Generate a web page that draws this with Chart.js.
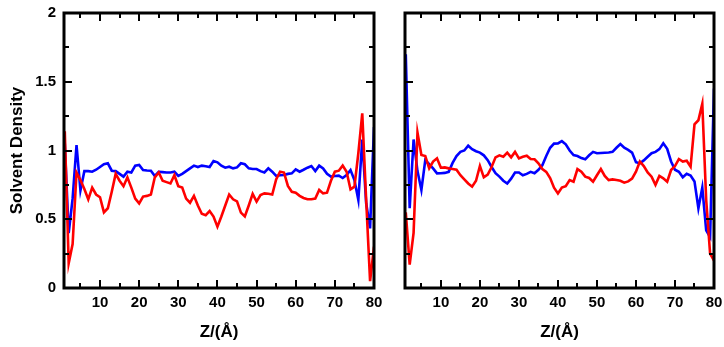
<!DOCTYPE html>
<html><head><meta charset="utf-8">
<script src="https://cdn.jsdelivr.net/npm/chart.js@4.4.1/dist/chart.umd.min.js"></script>
<style>
html,body{margin:0;padding:0;background:#fff;}
#wrap{position:relative;width:724px;height:347px;overflow:hidden;}
#c1{position:absolute;left:0;top:0;width:390px;height:347px;}
#c2{position:absolute;left:390px;top:0;width:334px;height:347px;}
</style></head><body>
<div id="wrap"><canvas id="c1" width="390" height="347"></canvas><canvas id="c2" width="334" height="347"></canvas></div>
<script>
// ---- data ----
const zValues = [1,2,3,4,5,6,7,8,9,10,11,12,13,14,15,16,17,18,19,20,21,22,23,24,25,26,27,28,29,30,31,32,33,34,35,36,37,38,39,40,41,42,43,44,45,46,47,48,49,50,51,52,53,54,55,56,57,58,59,60,61,62,63,64,65,66,67,68,69,70,71,72,73,74,75,76,77,78,79,80];
const leftRed = [1.14,0.18,0.32,0.84,0.785,0.72,0.645,0.73,0.68,0.66,0.55,0.58,0.70,0.83,0.78,0.74,0.805,0.73,0.65,0.615,0.665,0.67,0.68,0.805,0.84,0.78,0.77,0.76,0.82,0.74,0.73,0.65,0.62,0.67,0.60,0.54,0.53,0.56,0.52,0.446,0.52,0.60,0.68,0.645,0.63,0.548,0.52,0.60,0.684,0.628,0.676,0.688,0.685,0.68,0.79,0.846,0.84,0.742,0.70,0.693,0.67,0.655,0.645,0.645,0.65,0.713,0.688,0.693,0.78,0.846,0.853,0.89,0.846,0.717,0.737,0.98,1.27,0.64,0.05,0.30];
const leftBlue = [1.05,0.40,0.65,1.04,0.71,0.85,0.85,0.846,0.86,0.88,0.90,0.907,0.853,0.85,0.83,0.81,0.846,0.84,0.89,0.895,0.858,0.855,0.853,0.815,0.845,0.843,0.84,0.84,0.846,0.815,0.83,0.85,0.87,0.89,0.88,0.89,0.885,0.88,0.924,0.914,0.89,0.875,0.882,0.87,0.877,0.907,0.90,0.87,0.866,0.865,0.85,0.84,0.87,0.846,0.815,0.82,0.822,0.83,0.834,0.863,0.846,0.86,0.875,0.887,0.85,0.89,0.87,0.83,0.81,0.815,0.817,0.80,0.822,0.858,0.785,0.64,1.08,0.616,0.434,1.17];
const rightRed = [0.55,0.17,0.40,1.13,0.967,0.96,0.87,0.92,0.943,0.875,0.877,0.87,0.865,0.86,0.82,0.79,0.76,0.737,0.78,0.887,0.805,0.825,0.88,0.95,0.965,0.955,0.984,0.95,0.99,0.943,0.955,0.962,0.938,0.936,0.907,0.865,0.845,0.80,0.73,0.688,0.73,0.74,0.785,0.773,0.865,0.846,0.81,0.80,0.773,0.82,0.865,0.815,0.785,0.79,0.785,0.78,0.766,0.775,0.795,0.846,0.92,0.887,0.84,0.81,0.75,0.815,0.798,0.773,0.858,0.887,0.938,0.92,0.926,0.882,1.19,1.22,1.34,0.64,0.25,0.20];
const rightBlue = [1.70,0.58,1.08,0.85,0.713,0.93,0.90,0.87,0.834,0.835,0.837,0.845,0.91,0.96,0.99,1.0,1.035,1.01,0.995,0.985,0.965,0.93,0.88,0.835,0.81,0.78,0.76,0.795,0.84,0.84,0.82,0.83,0.845,0.835,0.86,0.893,0.96,1.02,1.05,1.052,1.068,1.045,1.0,0.967,0.96,0.945,0.936,0.965,0.99,0.98,0.982,0.984,0.986,0.99,1.02,1.047,1.02,1.005,0.985,0.915,0.907,0.928,0.955,0.98,0.99,1.01,1.052,1.012,0.92,0.86,0.845,0.805,0.83,0.818,0.775,0.58,0.73,0.42,0.37,1.45];
const xMajorTicks = [10,20,30,40,50,60,70,80];
const xMinorTicks = [5,10,15,20,25,30,35,40,45,50,55,60,65,70,75,80];
const yMajorTicks = [0,0.5,1,1.5,2];
const yTickLabels = ['0','0.5','1','1.5','2'];
const yMinorTicks = [0.25,0.5,0.75,1,1.25,1.5,1.75];
const xTitle = 'Z/(Å)';
const yTitle = 'Solvent Density';
const X_MIN = 0.8, X_MAX = 80, Y_MIN = 0, Y_MAX = 2;

// ---- chart ----
const FAMILY = '"Liberation Sans", Arial, Helvetica, sans-serif';
const tickFont = {family: FAMILY, size: 15, weight: 'bold'};
const titleFont = {family: FAMILY, size: 17, weight: 'bold'};
const setTicks = arr => (s => { s.ticks = arr.map(v => ({value: v})); });
const noPad = s => { s.paddingTop = 0; s.paddingBottom = 0; s.paddingLeft = 0; s.paddingRight = 0; };

// inward tick marks on all four sides + closed frame, placed through the scales
const frameAndTicks = {
  id: 'frameAndTicks',
  afterDatasetsDraw(chart) {
    const {ctx, chartArea: a} = chart;
    const sx = chart.scales.x, sy = chart.scales.y;
    ctx.save();
    ctx.strokeStyle = '#000';
    ctx.lineWidth = 2;
    const seg = (x1, y1, x2, y2) => { ctx.beginPath(); ctx.moveTo(x1, y1); ctx.lineTo(x2, y2); ctx.stroke(); };
    xMinorTicks.forEach(v => {
      const p = Math.round(sx.getPixelForValue(v));
      const L = xMajorTicks.includes(v) ? 8 : 5;
      seg(p, a.bottom, p, a.bottom - L);
      seg(p, a.top, p, a.top + L);
    });
    yMinorTicks.forEach(v => {
      const p = Math.round(sy.getPixelForValue(v));
      const L = yMajorTicks.includes(v) ? 8 : 5;
      seg(a.left, p, a.left + L, p);
      seg(a.right, p, a.right - L, p);
    });
    ctx.lineWidth = 3;
    ctx.strokeRect(a.left, a.top, a.right - a.left, a.bottom - a.top);
    ctx.restore();
  }
};

function buildScales(showY, yWidth) {
  return {
    x: {
      type: 'linear', position: 'bottom', min: X_MIN, max: X_MAX,
      afterBuildTicks: setTicks(xMajorTicks),
      afterFit: s => { s.height = 59; noPad(s); },
      grid: {display: false, drawTicks: false}, border: {display: false},
      ticks: {font: tickFont, color: '#000', padding: 6, maxRotation: 0, autoSkip: false, callback: v => String(v)},
      title: {display: true, text: xTitle, font: titleFont, color: '#000', padding: {top: 0, bottom: 4}}
    },
    y: {
      type: 'linear', position: 'left', min: Y_MIN, max: Y_MAX,
      afterBuildTicks: setTicks(yMajorTicks),
      afterFit: s => { s.width = yWidth; noPad(s); },
      grid: {display: false, drawTicks: false}, border: {display: false},
      ticks: {display: showY, font: tickFont, color: '#000', padding: 8,
              callback: v => yTickLabels[yMajorTicks.indexOf(v)]},
      title: {display: showY, text: yTitle, font: titleFont, color: '#000', padding: {top: 7, bottom: 0}}
    }
  };
}

function makeChart(id, red, blue, showY, yWidth, padRight) {
  const pts = arr => zValues.map((z, i) => ({x: z, y: arr[i]}));
  return new Chart(document.getElementById(id), {
    type: 'line',
    data: {datasets: [
      {data: pts(red), borderColor: '#ff0000', borderWidth: 2.6, pointRadius: 0, tension: 0, fill: false},
      {data: pts(blue), borderColor: '#0000ff', borderWidth: 2.6, pointRadius: 0, tension: 0, fill: false}
    ]},
    options: {
      responsive: false, animation: false, events: [],
      layout: {padding: {left: 0, top: 13, right: padRight, bottom: 0}},
      plugins: {legend: {display: false}, tooltip: {enabled: false}},
      scales: buildScales(showY, yWidth)
    },
    plugins: [frameAndTicks]
  });
}

makeChart('c1', leftRed, leftBlue, true, 64, 16);
makeChart('c2', rightRed, rightBlue, false, 15, 10);
</script>
</body></html>
